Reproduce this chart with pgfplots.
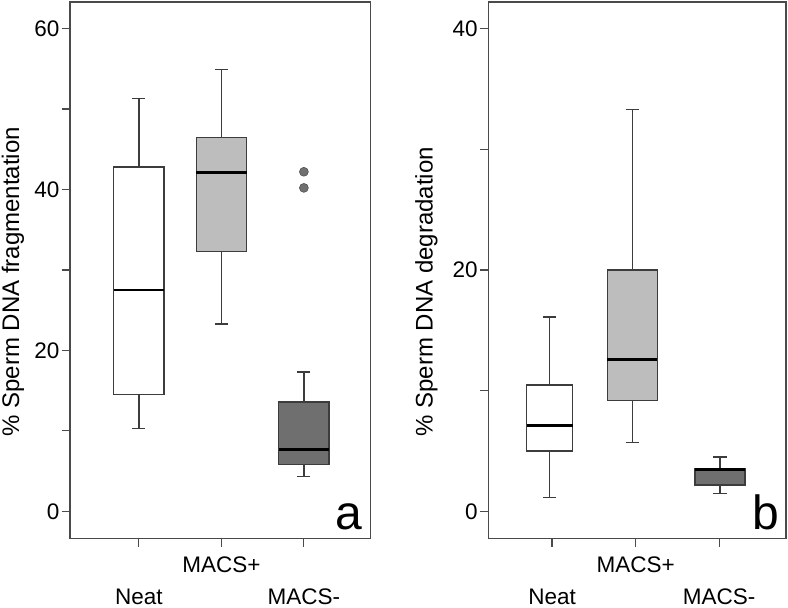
\documentclass[border=0pt]{standalone}
\usepackage{pgfplots}
\pgfplotsset{compat=1.18}
\usepgfplotslibrary{statistics}
\usepackage{fontspec}
\setmainfont{Liberation Sans}
\definecolor{framec}{HTML}{4A4A4A}
\definecolor{boxline}{HTML}{3C3C3C}
\definecolor{lightbox}{HTML}{BDBDBD}
\definecolor{darkbox}{HTML}{6F6F6F}
\definecolor{outl}{HTML}{707070}
\pgfplotsset{
  panel/.style={
    scale only axis, height=536.3pt,
    axis line style={framec, line width=1.4pt},
    tick style={framec, line width=1.2pt},
    tick align=outside, major tick length=8.5pt,
    xtick pos=left, ytick pos=left,
    xtick={1,2,3},
    xticklabels={\raisebox{-32pt}{Neat}, MACS+, \raisebox{-32pt}{MACS-}},
    xticklabel style={anchor=base, inner sep=0pt, yshift=-25.6pt},
    yticklabel style={anchor=east, inner sep=0pt, xshift=-2pt},
    /pgf/number format/assume math mode=true,
    tick label style={font=\fontsize{22.5}{26}\selectfont},
    boxplot/draw direction=y,
    boxplot/every box/.style={draw=boxline, line width=1.3pt},
    boxplot/every whisker/.style={draw=boxline, line width=1.3pt},
    boxplot/every median/.style={draw=black, line width=2.6pt},
  }
}
\begin{document}
\begin{tikzpicture}
\useasboundingbox (0,0) rectangle (788pt,608pt);
% Panel a
\begin{axis}[panel, at={(70pt,69.7pt)}, anchor=south west,
  width=300.7pt, xmin=0.165, xmax=3.81, ymin=-3.35, ymax=63.3,
  ytick={0,10,20,30,40,50,60}, yticklabels={0,,20,,40,,60},
  ylabel={\% Sperm DNA fragmentation},
  ylabel style={at={(rel axis cs:0,0.1895)}, anchor=west, inner sep=0pt, yshift=57pt, font=\fontsize{24}{28}\selectfont},
  ]
\addplot[fill=white, draw=boxline, boxplot prepared={draw position=1, box extend=0.61, whisker extend=0.16,
  lower whisker=10.3, lower quartile=14.5, median=27.5, upper quartile=42.8, upper whisker=51.3}]
  coordinates {};
\addplot[fill=lightbox, draw=boxline, boxplot prepared={draw position=2, box extend=0.61, whisker extend=0.16,
  lower whisker=23.3, lower quartile=32.3, median=42.1, upper quartile=46.5, upper whisker=54.9}]
  coordinates {};
\addplot[fill=darkbox, draw=boxline, mark=*, mark size=4.5pt, mark options={fill=outl, draw=none},
  boxplot prepared={draw position=3, box extend=0.61, whisker extend=0.16,
  lower whisker=4.3, lower quartile=5.8, median=7.65, upper quartile=13.6, upper whisker=17.3}]
  coordinates {(0,42.2) (0,40.2)};
\node[anchor=base east, inner sep=0pt, font=\fontsize{48}{50}\selectfont] at (rel axis cs:1,0) [xshift=-8pt, yshift=9pt] {a};
\end{axis}
% Panel b
\begin{axis}[panel, at={(488.3pt,69.7pt)}, anchor=south west,
  width=297.7pt, xmin=0.237, xmax=3.80, ymin=-2.24, ymax=42.2,
  ytick={0,10,20,30,40}, yticklabels={0,,20,,40},
  ylabel={\% Sperm DNA degradation},
  ylabel style={at={(rel axis cs:0,0.1895)}, anchor=west, inner sep=0pt, yshift=62pt, font=\fontsize{24}{28}\selectfont},
  ]
\addplot[fill=white, draw=boxline, boxplot prepared={draw position=0.97, box extend=0.55, whisker extend=0.16,
  lower whisker=1.16, lower quartile=5.0, median=7.09, upper quartile=10.46, upper whisker=16.1}]
  coordinates {};
\addplot[fill=lightbox, draw=boxline, boxplot prepared={draw position=1.96, box extend=0.6, whisker extend=0.16,
  lower whisker=5.68, lower quartile=9.16, median=12.6, upper quartile=20.0, upper whisker=33.3}]
  coordinates {};
\addplot[fill=darkbox, draw=boxline, boxplot prepared={draw position=3.01, box extend=0.6, whisker extend=0.16,
  lower whisker=1.49, lower quartile=2.18, median=3.45, upper quartile=3.5, upper whisker=4.5}]
  coordinates {};
\node[anchor=base east, inner sep=0pt, font=\fontsize{48}{50}\selectfont] at (rel axis cs:1,0) [xshift=-7pt, yshift=9pt] {b};
\end{axis}
\end{tikzpicture}
\end{document}
